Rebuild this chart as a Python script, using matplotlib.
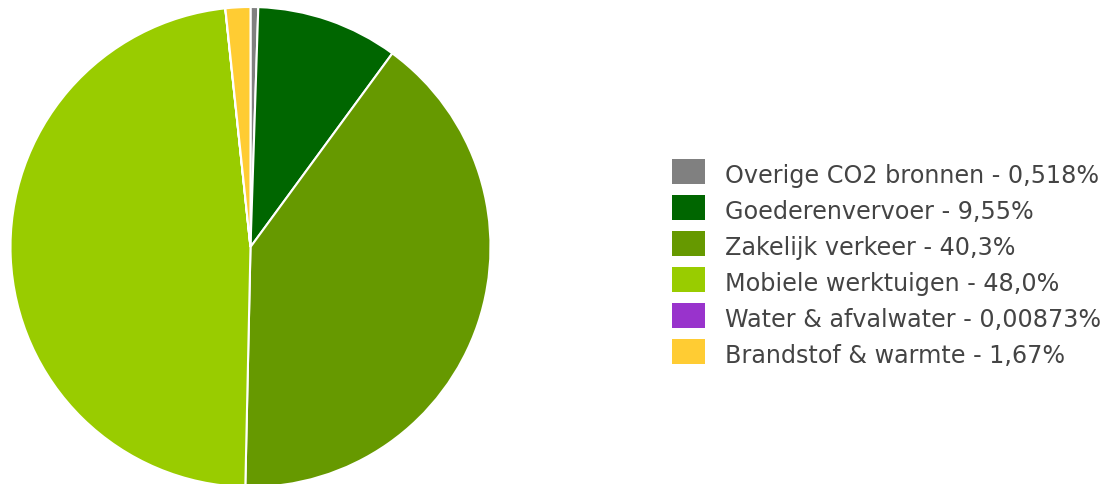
import matplotlib.pyplot as plt
from matplotlib.patches import Rectangle

labels = ["Overige CO2 bronnen", "Goederenvervoer", "Zakelijk verkeer",
          "Mobiele werktuigen", "Water & afvalwater", "Brandstof & warmte"]
percent_text = ["0,518%", "9,55%", "40,3%", "48,0%", "0,00873%", "1,67%"]
values = [0.518, 9.55, 40.3, 48.0, 0.00873, 1.67]
colors = ["#808080", "#006600", "#669900", "#99cc00", "#9933cc", "#ffcc33"]

W, H = 1112, 484
fig = plt.figure(figsize=(W / 100, H / 100), dpi=100)

# taart links, middelpunt ~ (250, 247), straal ~ 240 px
cx, cy, r = 250.5, 247, 240
ax = fig.add_axes([(cx - r) / W, (H - cy - r) / H, 2 * r / W, 2 * r / H])
ax.pie(values, colors=colors, startangle=90, counterclock=False,
       wedgeprops=dict(edgecolor="white", linewidth=1.5))
ax.set_xlim(-1, 1)
ax.set_ylim(-1, 1)
ax.set_aspect("equal")
ax.axis("off")

# legenda rechts
y0, step = 171.5, 36
for i, (lab, pt, col) in enumerate(zip(labels, percent_text, colors)):
    y = y0 + i * step
    fig.patches.append(Rectangle((672 / W, 1 - (y + 12.5) / H), 33 / W, 25 / H,
                                 transform=fig.transFigure, facecolor=col,
                                 edgecolor="none"))
    fig.text(725 / W, 1 - (y + 11.5) / H, f"{lab} - {pt}", fontsize=17.2,
             color="#444444", va="baseline", ha="left")

fig.savefig("out.png", dpi=100)
